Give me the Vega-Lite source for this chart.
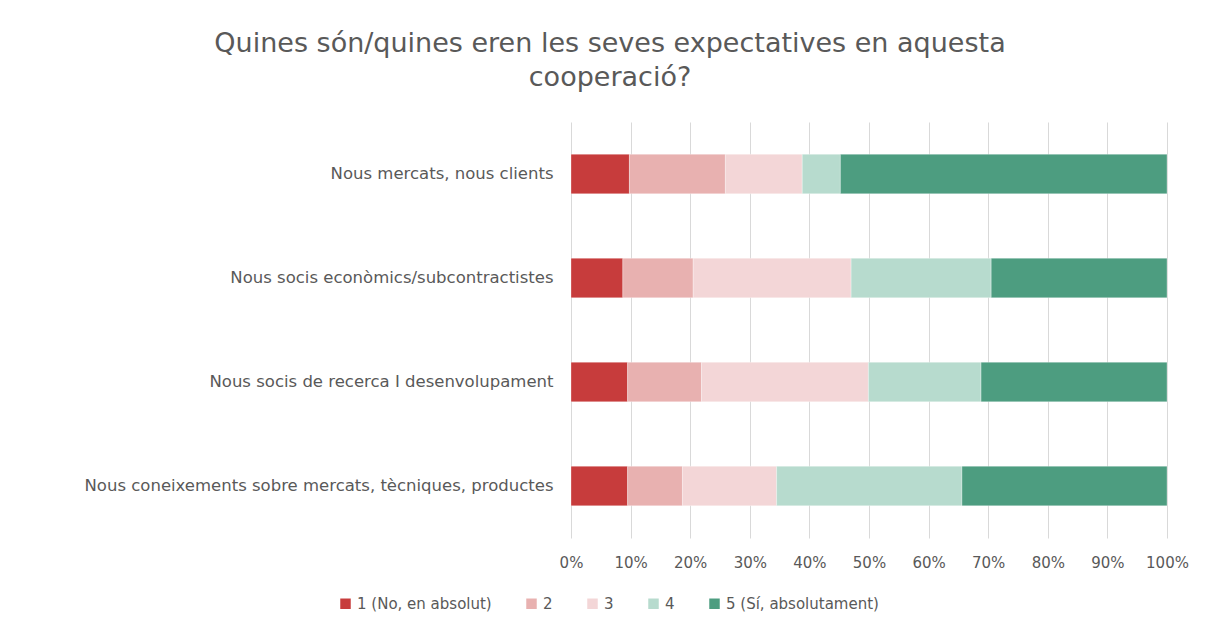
{
  "$schema": "https://vega.github.io/schema/vega-lite/v6.json",
  "autosize": "none",
  "width": 596,
  "height": 416,
  "padding": {"left": 571, "top": 122, "right": 52, "bottom": 97},
  "background": "white",
  "title": {
    "text": ["Quines són/quines eren les seves expectatives en aquesta", "cooperació?"],
    "font": "DejaVu Sans",
    "fontSize": 27,
    "fontWeight": "normal",
    "color": "#595959",
    "lineHeight": 34,
    "anchor": "middle",
    "frame": "group",
    "dx": -259,
    "offset": 30
  },
  "data": {
    "values": [
      {"item": "Nous mercats, nous clients", "resposta": "1 (No, en absolut)", "k": 1, "pct": 9.8},
      {"item": "Nous mercats, nous clients", "resposta": "2", "k": 2, "pct": 16.1},
      {"item": "Nous mercats, nous clients", "resposta": "3", "k": 3, "pct": 12.9},
      {"item": "Nous mercats, nous clients", "resposta": "4", "k": 4, "pct": 6.4},
      {"item": "Nous mercats, nous clients", "resposta": "5 (Sí, absolutament)", "k": 5, "pct": 54.8},
      {"item": "Nous socis econòmics/subcontractistes", "resposta": "1 (No, en absolut)", "k": 1, "pct": 8.7},
      {"item": "Nous socis econòmics/subcontractistes", "resposta": "2", "k": 2, "pct": 11.8},
      {"item": "Nous socis econòmics/subcontractistes", "resposta": "3", "k": 3, "pct": 26.5},
      {"item": "Nous socis econòmics/subcontractistes", "resposta": "4", "k": 4, "pct": 23.5},
      {"item": "Nous socis econòmics/subcontractistes", "resposta": "5 (Sí, absolutament)", "k": 5, "pct": 29.5},
      {"item": "Nous socis de recerca I desenvolupament", "resposta": "1 (No, en absolut)", "k": 1, "pct": 9.5},
      {"item": "Nous socis de recerca I desenvolupament", "resposta": "2", "k": 2, "pct": 12.4},
      {"item": "Nous socis de recerca I desenvolupament", "resposta": "3", "k": 3, "pct": 28.0},
      {"item": "Nous socis de recerca I desenvolupament", "resposta": "4", "k": 4, "pct": 18.9},
      {"item": "Nous socis de recerca I desenvolupament", "resposta": "5 (Sí, absolutament)", "k": 5, "pct": 31.2},
      {"item": "Nous coneixements sobre mercats, tècniques, productes", "resposta": "1 (No, en absolut)", "k": 1, "pct": 9.5},
      {"item": "Nous coneixements sobre mercats, tècniques, productes", "resposta": "2", "k": 2, "pct": 9.2},
      {"item": "Nous coneixements sobre mercats, tècniques, productes", "resposta": "3", "k": 3, "pct": 15.8},
      {"item": "Nous coneixements sobre mercats, tècniques, productes", "resposta": "4", "k": 4, "pct": 31.1},
      {"item": "Nous coneixements sobre mercats, tècniques, productes", "resposta": "5 (Sí, absolutament)", "k": 5, "pct": 34.4}
    ]
  },
  "mark": {"type": "bar", "stroke": "white", "strokeWidth": 0.5, "strokeOpacity": 0.6},
  "encoding": {
    "y": {
      "field": "item",
      "type": "nominal",
      "sort": null,
      "title": null,
      "scale": {"paddingInner": 0.62, "paddingOuter": 0.31},
      "axis": {
        "domain": false,
        "ticks": false,
        "labelFont": "DejaVu Sans",
        "labelFontSize": 16.5,
        "labelColor": "#595959",
        "labelPadding": 18,
        "labelLimit": 700
      }
    },
    "x": {
      "field": "pct",
      "type": "quantitative",
      "stack": "normalize",
      "title": null,
      "scale": {"domain": [0, 1], "nice": false},
      "axis": {
        "values": [0, 0.1, 0.2, 0.3, 0.4, 0.5, 0.6, 0.7, 0.8, 0.9, 1],
        "format": ".0%",
        "domain": false,
        "ticks": false,
        "grid": true,
        "gridColor": "#d9d9d9",
        "gridWidth": 1,
        "labelFlush": false,
        "labelFont": "DejaVu Sans",
        "labelFontSize": 15,
        "labelColor": "#595959",
        "labelPadding": 17
      }
    },
    "color": {
      "field": "resposta",
      "type": "nominal",
      "sort": ["1 (No, en absolut)", "2", "3", "4", "5 (Sí, absolutament)"],
      "scale": {
        "domain": ["1 (No, en absolut)", "2", "3", "4", "5 (Sí, absolutament)"],
        "range": ["#c73c3c", "#e8b1b0", "#f3d6d7", "#b7dbce", "#4d9d80"]
      },
      "legend": {
        "title": null,
        "orient": "none",
        "direction": "horizontal",
        "legendX": -233,
        "legendY": 474,
        "symbolType": "square",
        "symbolSize": 110,
        "symbolStrokeWidth": 0,
        "labelFont": "DejaVu Sans",
        "labelFontSize": 15,
        "labelColor": "#595959",
        "labelLimit": 400,
        "columnPadding": 32,
        "labelOffset": 4
      }
    },
    "order": {"field": "k", "type": "quantitative"}
  },
  "config": {"view": {"stroke": null}}
}
